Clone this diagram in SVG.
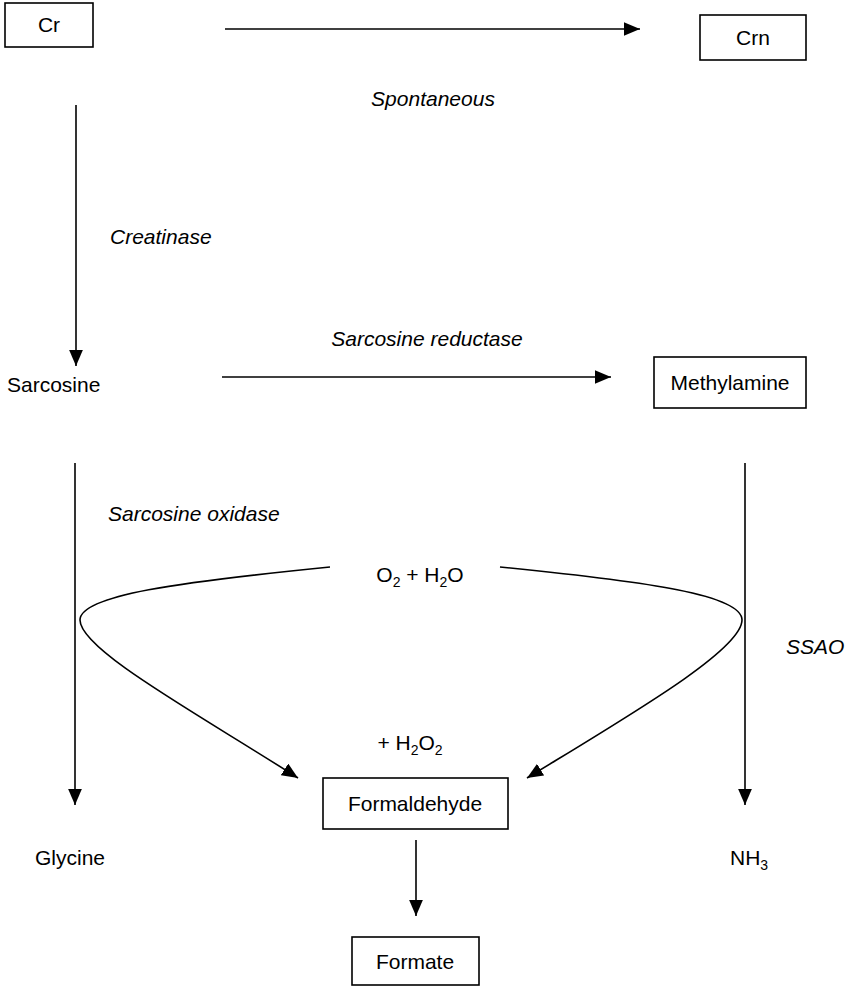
<svg xmlns="http://www.w3.org/2000/svg" width="846" height="987" viewBox="0 0 846 987">
<style>
.box{fill:none;stroke:#000;stroke-width:1.6}
.t{font-family:"Liberation Sans",Arial,sans-serif;font-size:21px;fill:#000}
.i{font-style:italic}
.m{text-anchor:middle}
.ln{fill:none;stroke:#000;stroke-width:1.6}
</style>
<defs>
<marker id="ah2" viewBox="0 0 14 12" refX="14" refY="6" markerWidth="16" markerHeight="14" markerUnits="userSpaceOnUse" orient="auto">
<path d="M0,0 L14,6 L0,12 Z" fill="#000"/>
</marker>
</defs>
<g id="connectors">
<line class="ln" x1="225" y1="29" x2="640" y2="29" marker-end="url(#ah2)"/>
<line class="ln" x1="76" y1="105" x2="76" y2="366" marker-end="url(#ah2)"/>
<line class="ln" x1="222" y1="377" x2="611" y2="377" marker-end="url(#ah2)"/>
<line class="ln" x1="75" y1="463" x2="75" y2="805" marker-end="url(#ah2)"/>
<line class="ln" x1="745" y1="463" x2="745" y2="805" marker-end="url(#ah2)"/>
<line class="ln" x1="416" y1="840" x2="416" y2="916" marker-end="url(#ah2)"/>
<path class="ln" d="M330,567 C180,582 80,595 80,620 C80,650 200,715 298,778" marker-end="url(#ah2)"/>
<path class="ln" d="M500,567 C650,582 742,595 742,620 C742,650 630,715 527,778" marker-end="url(#ah2)"/>
</g>
<g id="node-cr"><rect class="box" x="5" y="3" width="88" height="44"/><text class="t m" x="49" y="32">Cr</text></g>
<g id="node-crn"><rect class="box" x="700" y="15" width="106" height="45"/><text class="t m" x="753" y="45">Crn</text></g>
<g id="label-spontaneous"><text class="t i m" x="433" y="106">Spontaneous</text></g>
<g id="label-creatinase"><text class="t i" x="110" y="244">Creatinase</text></g>
<g id="label-sarcosine-reductase"><text class="t i m" x="427" y="346">Sarcosine reductase</text></g>
<g id="node-sarcosine"><text class="t" x="7" y="392">Sarcosine</text></g>
<g id="node-methylamine"><rect class="box" x="654" y="357" width="152" height="51"/><text class="t m" x="730" y="390">Methylamine</text></g>
<g id="label-sarcosine-oxidase"><text class="t i" x="108" y="521">Sarcosine oxidase</text></g>
<g id="label-o2-h2o"><text class="t m" x="420" y="582">O<tspan font-size="14" dy="5">2</tspan><tspan dy="-5"> + H</tspan><tspan font-size="14" dy="5">2</tspan><tspan dy="-5">O</tspan></text></g>
<g id="label-ssao"><text class="t i" x="786" y="654">SSAO</text></g>
<g id="label-h2o2"><text class="t m" x="410" y="750">+ H<tspan font-size="14" dy="5">2</tspan><tspan dy="-5">O</tspan><tspan font-size="14" dy="5">2</tspan></text></g>
<g id="node-formaldehyde"><rect class="box" x="323" y="778" width="185" height="51"/><text class="t m" x="415" y="811">Formaldehyde</text></g>
<g id="node-glycine"><text class="t" x="35" y="865">Glycine</text></g>
<g id="node-nh3"><text class="t" x="730" y="865">NH<tspan font-size="14" dy="5">3</tspan></text></g>
<g id="node-formate"><rect class="box" x="352" y="937" width="127" height="48"/><text class="t m" x="415" y="969">Formate</text></g>
</svg>
